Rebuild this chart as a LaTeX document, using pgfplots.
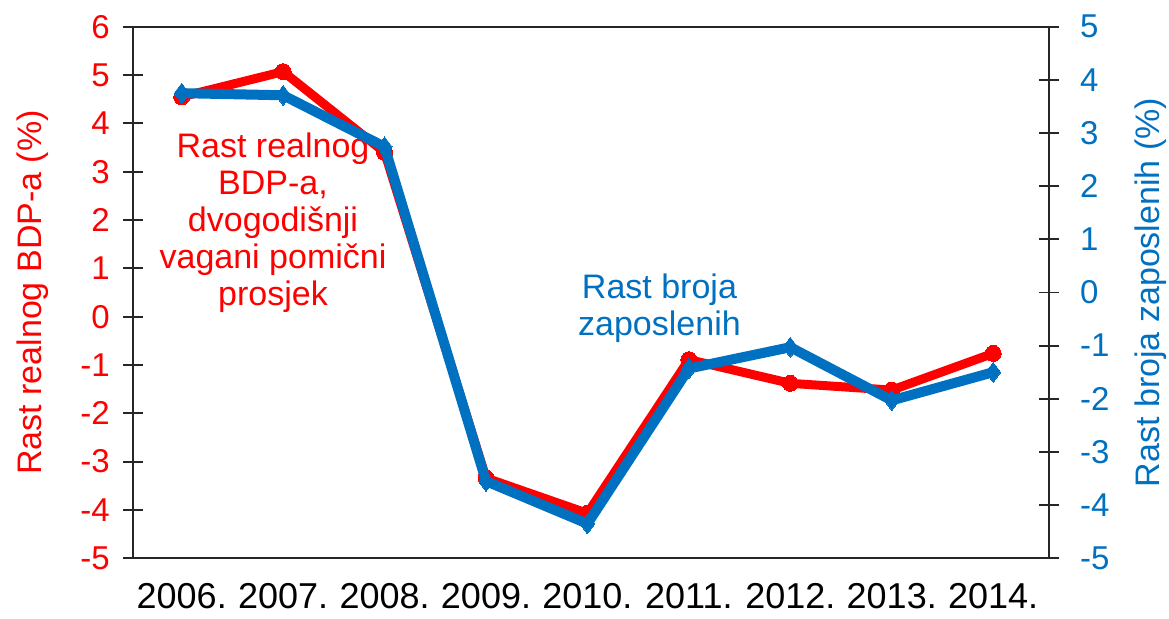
\documentclass[border=0pt]{standalone}
\usepackage{pgfplots}
\pgfplotsset{compat=1.18}
\usepackage{fontspec}
\setmainfont{Liberation Sans}
\definecolor{gdpred}{RGB}{255,0,0}
\definecolor{empblue}{RGB}{0,112,192}
\begin{document}
\begin{tikzpicture}
\pgfplotsset{
  every axis/.append style={
    scale only axis, width=458pt, height=265.7pt,
    xmin=-0.483, xmax=8.55,
    /pgf/number format/assume math mode=true,
    clip=false,
    tick align=center, major tick length=10pt,
    axis line style={line width=0.9pt, black!85},
    every tick/.style={line width=0.9pt, black!85},
  }
}
\begin{axis}[
  ymin=-5, ymax=6, ytick={-5,...,6},
  xtick={0,...,8},
  xticklabels={2006.,2007.,2008.,2009.,2010.,2011.,2012.,2013.,2014.},
  xtick style={draw=none},
  ytick pos=left, xtick pos=bottom,
  yticklabel style={font=\fontsize{16.5}{19}\selectfont, text=gdpred, xshift=-3pt},
  xticklabel style={font=\fontsize{18}{21}\selectfont, yshift=-4pt},
  ylabel={Rast realnog BDP-a (\%)},
  ylabel style={font=\fontsize{17}{20}\selectfont, text=gdpred,
    at={(axis description cs:-0.1088,0.5)}, rotate=0, anchor=center},
]
\coordinate (bl) at (rel axis cs:0,0);
\coordinate (tr) at (rel axis cs:1,1);
\addplot[gdpred, line width=4.5pt, line join=round, mark=*, mark size=4pt,
  mark options={solid, fill=gdpred, draw=gdpred, line width=0pt}]
  coordinates {(0,4.55)(1,5.07)(2,3.40)(3,-3.34)(4,-4.07)(5,-0.89)(6,-1.38)(7,-1.52)(8,-0.76)};
\node[align=center, text=gdpred, font=\fontsize{17}{18.5}\selectfont]
  at (axis cs:0.9,1.94) {Rast realnog\\BDP-a,\\dvogodišnji\\vagani pomični\\prosjek};
\node[align=center, text=empblue, font=\fontsize{17}{18.5}\selectfont]
  at (axis cs:4.71,0.18) {Rast broja\\zaposlenih};
\end{axis}
\begin{axis}[
  axis x line=none, axis y line*=right,
  ymin=-5, ymax=5, ytick={-5,...,5},
  yticklabel style={font=\fontsize{16.5}{19}\selectfont, text=empblue, xshift=7pt},
  ylabel={Rast broja zaposlenih (\%)},
  ylabel style={font=\fontsize{17}{20}\selectfont, text=empblue,
    at={(axis description cs:1.1106,0.5)}, rotate=0, anchor=center},
]
\addplot[empblue, line width=5pt, line join=round, mark=diamond*, mark size=5pt,
  mark options={solid, fill=empblue, draw=empblue, line width=0pt}]
  coordinates {(0,3.75)(1,3.71)(2,2.74)(3,-3.55)(4,-4.35)(5,-1.43)(6,-1.03)(7,-2.03)(8,-1.50)};
\end{axis}
\pgfresetboundingbox
\path[use as bounding box] ([shift={(-66.35pt,-30pt)}]bl) rectangle ([shift={(60pt,13.35pt)}]tr);
\end{tikzpicture}
\end{document}
